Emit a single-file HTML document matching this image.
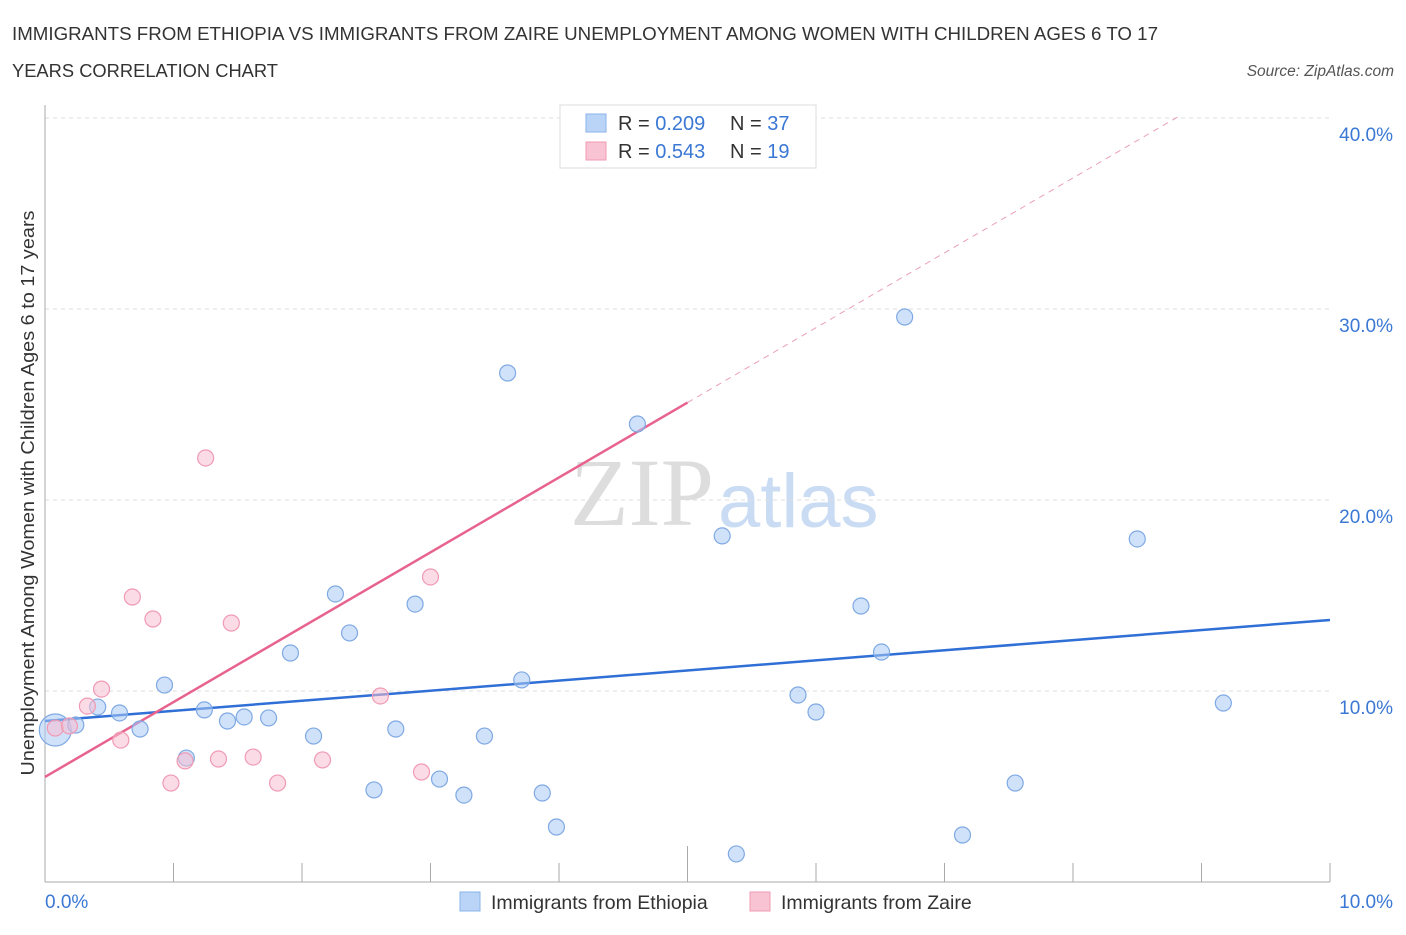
<!DOCTYPE html>
<html><head><meta charset="utf-8"><style>
body{margin:0;background:#fff;font-family:"Liberation Sans",sans-serif}
</style></head><body>
<svg width="1406" height="930" viewBox="0 0 1406 930" xmlns="http://www.w3.org/2000/svg" font-family="Liberation Sans, sans-serif">
<text x="12" y="40" font-size="18" fill="#333" textLength="1146" lengthAdjust="spacingAndGlyphs">IMMIGRANTS FROM ETHIOPIA VS IMMIGRANTS FROM ZAIRE UNEMPLOYMENT AMONG WOMEN WITH CHILDREN AGES 6 TO 17</text>
<text x="12" y="77" font-size="18" fill="#333" textLength="266" lengthAdjust="spacingAndGlyphs">YEARS CORRELATION CHART</text>
<text x="1394" y="76" font-size="15.5" fill="#555" text-anchor="end" font-style="italic">Source: ZipAtlas.com</text>
<text x="714" y="525" font-size="96" fill="#ddd" text-anchor="end" font-family="Liberation Serif, serif">ZIP</text>
<text x="718" y="527" font-size="76" fill="#c9dcf3">atlas</text>
<g id="grid"></g>
<g id="axes"></g>
<g id="trend"></g>
<g id="pts"></g>
<text transform="translate(34,493) rotate(-90)" font-size="18" fill="#333" text-anchor="middle" textLength="565" lengthAdjust="spacingAndGlyphs">Unemployment Among Women with Children Ages 6 to 17 years</text>
<g>
<rect x="560" y="105" width="256" height="63" fill="#fff" stroke="#ddd"/>
<rect x="586" y="114" width="20" height="18" fill="#b9d4f6" stroke="#8ab4e8"/>
<text x="618" y="130" font-size="20" fill="#333">R = <tspan fill="#3a78d4">0.209</tspan></text>
<text x="730" y="130" font-size="20" fill="#333">N = <tspan fill="#3a78d4">37</tspan></text>
<rect x="586" y="142" width="20" height="18" fill="#f8c3d3" stroke="#f29bb5"/>
<text x="618" y="158" font-size="20" fill="#333">R = <tspan fill="#3a78d4">0.543</tspan></text>
<text x="730" y="158" font-size="20" fill="#333">N = <tspan fill="#3a78d4"> 19</tspan></text>
</g>
<g>
<rect x="460" y="892" width="20" height="19" fill="#b9d4f6" stroke="#8ab4e8"/>
<text x="491" y="909" font-size="19.5" fill="#333">Immigrants from Ethiopia</text>
<rect x="750" y="892" width="20" height="19" fill="#f8c3d3" stroke="#f29bb5"/>
<text x="781" y="909" font-size="19.5" fill="#333">Immigrants from Zaire</text>
</g>
</svg>
<script>
const ethX=[0.08,0.24,0.41,0.58,0.74,0.93,1.10,1.24,1.42,1.55,1.74,1.91,2.09,2.26,2.37,2.56,2.73,2.88,3.07,3.26,3.42,3.60,3.71,3.87,3.98,4.61,5.27,5.38,5.86,6.00,6.35,6.51,6.69,7.14,7.55,8.50,9.17];
const ethY=[7.96,8.22,9.16,8.85,8.01,10.31,6.49,9.01,8.43,8.64,8.59,11.99,7.64,15.08,13.04,4.82,8.01,14.55,5.39,4.55,7.64,26.65,10.58,4.66,2.88,23.98,18.12,1.47,9.79,8.90,14.45,12.04,29.58,2.46,5.18,17.96,9.37];
const zaiX=[0.08,0.19,0.33,0.44,0.59,0.68,0.84,0.98,1.09,1.25,1.35,1.45,1.62,1.81,2.16,2.61,2.93,3.00,4.54];
const zaiY=[8.06,8.17,9.21,10.10,7.43,14.92,13.77,5.18,6.34,22.20,6.44,13.56,6.54,5.18,6.39,9.74,5.76,15.97,40.05];
const yTicks=[10,20,30,40];
const yTickLabels=["10.0%","20.0%","30.0%","40.0%"];
const ethTrend=[8.43,13.72];
const zaiTrend=[5.5,3.92];
const NS="http://www.w3.org/2000/svg";
const X=v=>45+v*128.5, Y=v=>882-v*19.1;
function mk(tag,a,parent){const e=document.createElementNS(NS,tag);for(const k in a)e.setAttribute(k,a[k]);document.getElementById(parent).appendChild(e);return e;}
yTicks.forEach((t,i)=>{
 const g=mk('line',{x1:45,x2:1330,y1:Y(t),y2:Y(t),stroke:'#ddd','stroke-dasharray':'4,4'},'grid');
 
 
 const l=mk('text',{x:1393,y:Y(t)+23,'font-size':19,fill:'#3a78d4','text-anchor':'end'},'axes');
 l.textContent=yTickLabels[i];
 
 
});
const ax=mk('line',{x1:45,x2:1330,y1:882,y2:882,stroke:'#aaa'},'axes');


const ay=mk('line',{x1:45,x2:45,y1:105,y2:882,stroke:'#aaa'},'axes');


for(let i=0;i<=10;i++){const t=mk('line',{x1:X(i),x2:X(i),y1:882,y2:i==5?846:863,stroke:'#aaa'},'axes');
 
 }
[[0,"0.0%",'start',45],[10,"10.0%",'end',1393]].forEach(([v,s,a,x])=>{const t=mk('text',{x:x,y:908,'font-size':19,fill:'#3a78d4','text-anchor':a},'axes');t.textContent=s;
 
 });
const bt=mk('line',{x1:X(0),y1:Y(ethTrend[0]),x2:X(10),y2:Y(ethTrend[1]),stroke:'#2f6fd6','stroke-width':2.5},'trend');


const pz=x=>zaiTrend[0]+zaiTrend[1]*x;
const pt=mk('line',{x1:X(0),y1:Y(pz(0)),x2:X(5),y2:Y(pz(5)),stroke:'#e8628e','stroke-width':2.5},'trend');


const xe=(40.05-zaiTrend[0])/zaiTrend[1];
const pd=mk('line',{x1:X(5),y1:Y(pz(5)),x2:X(xe),y2:Y(pz(xe)),stroke:'#eaa0b8','stroke-width':1,'stroke-dasharray':'6,5'},'trend');


ethX.forEach((x,i)=>{const c=mk('circle',{cx:X(x),cy:Y(ethY[i]),r:i==0?16:8,fill:'rgba(170,200,245,0.55)',stroke:'#7fa9e3','stroke-width':1.2},'pts');
 
 });
zaiX.forEach((x,i)=>{const c=mk('circle',{cx:X(x),cy:Y(zaiY[i]),r:8,fill:'rgba(248,190,208,0.55)',stroke:'#f09ab4','stroke-width':1.2},'pts');
 
 });
</script>
</body></html>
